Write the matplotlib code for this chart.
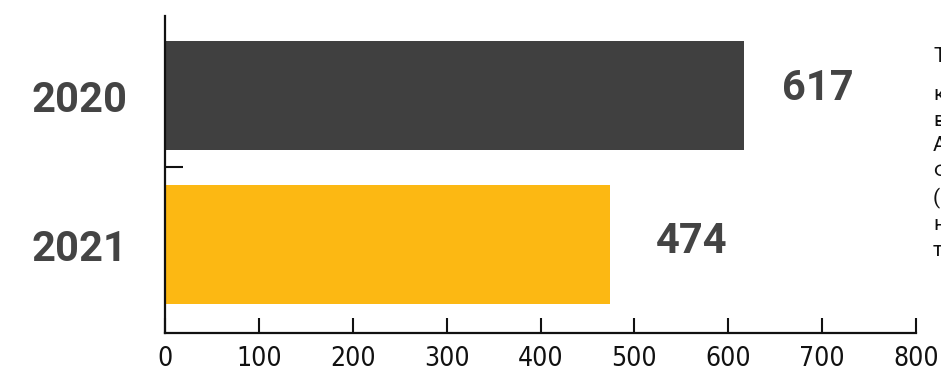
import matplotlib
matplotlib.use("Agg")
import matplotlib.pyplot as plt
from matplotlib import font_manager as fm
from matplotlib.ticker import FixedLocator

years = ["2020", "2021"]
values = [617, 474]
bar_colors = ["#404040", "#FCB813"]
x_ticks = [0, 100, 200, 300, 400, 500, 600, 700, 800]
side_letters = ["Т", "к", "в", "А", "Ф", "(", "н", "т"]

names = {f.name for f in fm.fontManager.ttflist}
bold_font = "Roboto" if "Roboto" in names else "DejaVu Sans"
cond = [f for f in fm.fontManager.ttflist if f.name == "DejaVu Sans" and f.stretch == "condensed"]
tick_prop = fm.FontProperties(family="DejaVu Sans", stretch="condensed", size=19) if cond \
    else fm.FontProperties(family="DejaVu Sans", size=16)

W, H = 941, 369
fig = plt.figure(figsize=(W / 100, H / 100), dpi=100)
ax = fig.add_axes([165 / W, 1 - 333 / H, (916 - 165) / W, (333 - 16) / H])

ypos = [0, 1]
heights = [0.73, 0.80]
ax.barh(ypos, values, height=heights, color=bar_colors, edgecolor="none")

ax.set_xlim(0, 800)
ax.set_ylim(1.594, -0.534)

for s in ("top", "right"):
    ax.spines[s].set_visible(False)
for s in ("left", "bottom"):
    ax.spines[s].set_linewidth(1.6)
    ax.spines[s].set_color("#111111")

ax.set_xticks(x_ticks)
ax.set_xticklabels([str(t) for t in x_ticks], fontproperties=tick_prop, color="#111111")
ax.tick_params(axis="x", direction="in", length=11, width=1.5, pad=9, colors="#111111")

ax.set_yticks(ypos)
ax.set_yticklabels(years, fontfamily=bold_font, fontweight="bold", fontsize=30, color="#444444")
ax.tick_params(axis="y", which="major", length=0, pad=27)
ax.yaxis.set_minor_locator(FixedLocator([0.48]))
ax.tick_params(axis="y", which="minor", direction="in", length=13, width=1.5, color="#111111")

offsets = [38, 46]
for y, v, off in zip(ypos, values, offsets):
    ax.annotate(str(v), xy=(v, y), xytext=(off * 0.72, 5 if y == 0 else 2),
                textcoords="offset points", ha="left", va="center",
                fontfamily=bold_font, fontweight="bold", fontsize=30, color="#444444")

line_y = [57, 94, 120, 146, 171, 198, 225, 251]
for ch, py in zip(side_letters, line_y):
    fig.text(933 / W, 1 - py / H, ch, ha="left", va="center",
             fontfamily=bold_font, fontsize=15, color="#111111")

fig.savefig("out.png", dpi=100)
